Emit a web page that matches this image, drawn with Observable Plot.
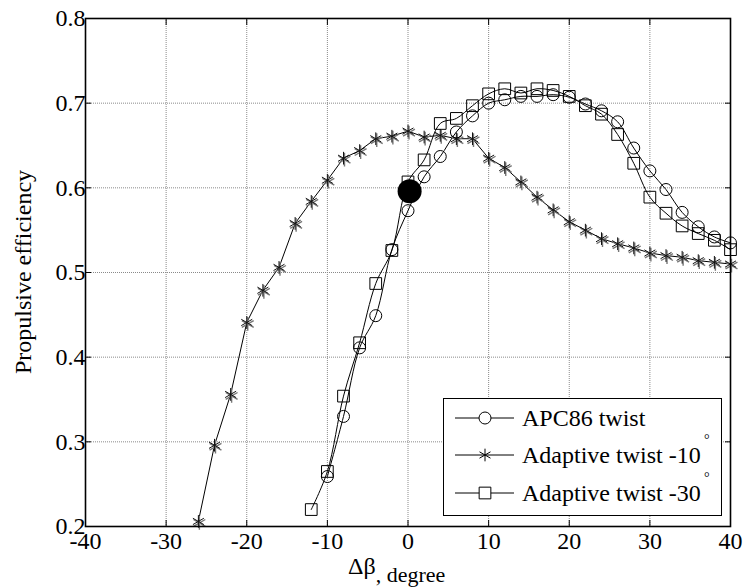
<!DOCTYPE html>
<html>
<head>
<meta charset="utf-8">
<script src="https://cdn.jsdelivr.net/npm/d3@7"></script>
<script src="https://cdn.jsdelivr.net/npm/@observablehq/plot@0.6"></script>
<style>
  html, body { margin: 0; padding: 0; background: #fff; }
  #chart svg { display: block; }
</style>
</head>
<body>
<div id="chart"></div>
<script>
// ---- data ----
const xTicks = [-40, -30, -20, -10, 0, 10, 20, 30, 40];
const yTicks = [0.2, 0.3, 0.4, 0.5, 0.6, 0.7, 0.8];

const apcX = [-10, -8, -6, -4, -2, 0, 2, 4, 6, 8, 10, 12, 14, 16, 18, 20, 22, 24, 26, 28, 30, 32, 34, 36, 38, 40];
const apcY = [0.259, 0.330, 0.411, 0.449, 0.527, 0.573, 0.613, 0.637, 0.666, 0.685, 0.700, 0.704, 0.708, 0.708, 0.710, 0.707, 0.699, 0.691, 0.678, 0.647, 0.620, 0.598, 0.571, 0.554, 0.542, 0.535];

const ad10X = [-26, -24, -22, -20, -18, -16, -14, -12, -10, -8, -6, -4, -2, 0, 2, 4, 6, 8, 10, 12, 14, 16, 18, 20, 22, 24, 26, 28, 30, 32, 34, 36, 38, 40];
const ad10Y = [0.206, 0.296, 0.356, 0.441, 0.479, 0.506, 0.558, 0.584, 0.609, 0.635, 0.644, 0.658, 0.661, 0.667, 0.660, 0.662, 0.658, 0.658, 0.635, 0.624, 0.607, 0.589, 0.574, 0.560, 0.550, 0.540, 0.534, 0.529, 0.523, 0.520, 0.518, 0.514, 0.512, 0.510];

const ad30X = [-12, -10, -8, -6, -4, -2, 0, 2, 4, 6, 8, 10, 12, 14, 16, 18, 20, 22, 24, 26, 28, 30, 32, 34, 36, 38, 40];
const ad30Y = [0.220, 0.265, 0.354, 0.417, 0.487, 0.526, 0.607, 0.633, 0.676, 0.682, 0.697, 0.711, 0.717, 0.712, 0.717, 0.715, 0.708, 0.697, 0.687, 0.663, 0.629, 0.589, 0.570, 0.555, 0.546, 0.538, 0.527];

const markX = [0.2];
const markY = [0.596];

const seriesNames = ["APC86 twist", "Adaptive twist -10", "Adaptive twist -30"];

const zip = (xs, ys) => xs.map((x, i) => ({x, y: ys[i]}));
const apc = zip(apcX, apcY);
const ad10 = zip(ad10X, ad10Y);
const ad30 = zip(ad30X, ad30Y);
const mark = zip(markX, markY);

const FONT = "'Liberation Serif', 'Times New Roman', serif";
const fmtX = d => (d < 0 ? "-" + Math.abs(d) : String(d));

const chart = Plot.plot({
  width: 744,
  height: 587,
  marginLeft: 85,
  marginRight: 14,
  marginTop: 18,
  marginBottom: 61,
  style: {fontFamily: FONT, background: "#fff", color: "#000"},
  x: {domain: [-40, 40]},
  y: {domain: [0.2, 0.8]},
  marks: [
    Plot.gridX(xTicks, {stroke: "#8a8a8a", strokeOpacity: 1, strokeDasharray: "1,1"}),
    Plot.gridY(yTicks, {stroke: "#8a8a8a", strokeOpacity: 1, strokeDasharray: "1,1"}),
    Plot.axisX(xTicks, {anchor: "bottom", tickSize: -6, tickPadding: 11, tickFormat: fmtX, fontSize: 24, label: null}),
    Plot.axisX(xTicks, {anchor: "top", tickSize: -6, tickFormat: () => "", label: null}),
    Plot.axisY(yTicks, {anchor: "left", tickSize: -6, tickPadding: 6, tickFormat: d3.format(".1f"), fontSize: 24, label: null}),
    Plot.axisY(yTicks, {anchor: "right", tickSize: -6, tickFormat: () => "", label: null}),
    Plot.line(ad10, {x: "x", y: "y", stroke: "#000", strokeWidth: 1}),
    Plot.line(apc, {x: "x", y: "y", stroke: "#000", strokeWidth: 1, curve: "catmull-rom"}),
    Plot.line(ad30, {x: "x", y: "y", stroke: "#000", strokeWidth: 1, curve: "catmull-rom"}),
    Plot.dot(ad10, {x: "x", y: "y", symbol: "asterisk", r: 6.5, stroke: "#777", strokeWidth: 1.4, dx: 1, dy: 1.5}),
    Plot.dot(ad10, {x: "x", y: "y", symbol: "asterisk", r: 6, stroke: "#111", strokeWidth: 1}),
    Plot.dot(apc, {x: "x", y: "y", symbol: "circle", r: 6, stroke: "#000", fill: "none", strokeWidth: 1}),
    Plot.dot(ad30, {x: "x", y: "y", symbol: "square", r: 6.6, stroke: "#000", fill: "none", strokeWidth: 1}),
    Plot.dot(mark, {x: "x", y: "y", r: 12, fill: "#000", stroke: "none"}),
    Plot.frame({stroke: "#000", strokeWidth: 1.6})
  ]
});

document.getElementById("chart").appendChild(chart);

// ---- axis labels and legend (added into the Plot SVG) ----
const svg = d3.select(chart);

svg.append("text")
  .attr("transform", "translate(31,272) rotate(-90)")
  .attr("text-anchor", "middle")
  .attr("font-family", FONT)
  .attr("font-size", 24)
  .attr("fill", "#000")
  .text("Propulsive efficiency");

const xl = svg.append("text")
  .attr("x", 348).attr("y", 574)
  .attr("text-anchor", "start")
  .attr("font-family", FONT)
  .attr("fill", "#000");
xl.append("tspan").attr("font-size", 24).text("\u0394\u03B2");
xl.append("tspan").attr("font-size", 22).attr("dy", 8).text(", degree");

// legend
const lg = svg.append("g").attr("text-anchor", "start");
lg.append("rect")
  .attr("x", 443.5).attr("y", 398.5).attr("width", 278).attr("height", 117)
  .attr("fill", "#fff").attr("stroke", "#000").attr("stroke-width", 1);

const rowsY = [418, 455, 493];
const symGen = [d3.symbolCircle, d3.symbolAsterisk, d3.symbolSquare];
const symSize = [Math.PI * 36, Math.PI * 36, Math.PI * 6.6 * 6.6];
seriesNames.forEach((name, i) => {
  const y = rowsY[i];
  lg.append("line")
    .attr("x1", 455).attr("x2", 514).attr("y1", y).attr("y2", y)
    .attr("stroke", "#000").attr("stroke-width", 1);
  lg.append("path")
    .attr("transform", `translate(485,${y})`)
    .attr("d", d3.symbol(symGen[i], symSize[i])())
    .attr("fill", i === 1 ? "none" : "#fff")
    .attr("stroke", "#000").attr("stroke-width", 1);
  lg.append("text")
    .attr("x", 522).attr("y", y + 8)
    .attr("text-anchor", "start")
    .attr("font-family", FONT).attr("font-size", 24).attr("fill", "#000")
    .text(name);
  if (i > 0) {
    lg.append("text")
      .attr("x", 704).attr("y", y - 11)
      .attr("text-anchor", "start")
      .attr("font-family", FONT).attr("font-size", 14).attr("fill", "#000")
      .text("\u00B0");
  }
});
</script>
</body>
</html>
